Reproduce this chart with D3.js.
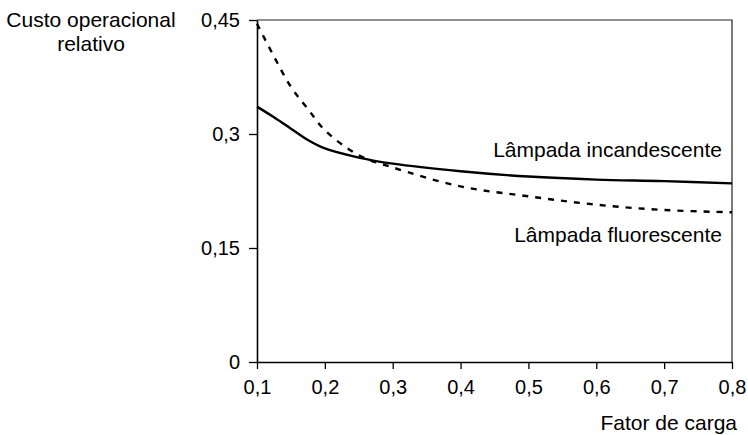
<!DOCTYPE html>
<html>
<head>
<meta charset="utf-8">
<script src="https://cdn.jsdelivr.net/npm/d3@7"></script>
<style>
  body { margin: 0; background: #fff; }
  text { font-family: "Liberation Sans", Arial, sans-serif; fill: #000; }
</style>
</head>
<body>
<div id="chart"></div>
<script>
// load factor (x) and relative operating cost for each lamp type
const loadFactor = [0.1, 0.125, 0.15, 0.175, 0.2, 0.25, 0.3, 0.4, 0.5, 0.6, 0.7, 0.8];
const incandescent = [0.336, 0.322, 0.307, 0.292, 0.281, 0.269, 0.261, 0.251, 0.244, 0.240, 0.238, 0.235];
const fluorescent = [0.445, 0.402, 0.362, 0.333, 0.305, 0.272, 0.256, 0.231, 0.218, 0.207, 0.200, 0.197];
const xTicks = [0.1, 0.2, 0.3, 0.4, 0.5, 0.6, 0.7, 0.8];
const yTicks = [0, 0.15, 0.3, 0.45];

let chart = { width: 748, height: 435, left: 257, top: 20, right: 16, bottom: 73 };
chart.innerWidth = chart.width - chart.left - chart.right;
chart.innerHeight = chart.height - chart.top - chart.bottom;

const fmt = d => String(d).replace('.', ',');

var svg = d3.select("#chart").append("svg")
    .attr("width", chart.width)
    .attr("height", chart.height);

var g = svg.append("g")
    .attr("transform", "translate(" + chart.left + "," + chart.top + ")");

var xscale = d3.scaleLinear().domain([0.1, 0.8]).range([0, chart.innerWidth]);
var yscale = d3.scaleLinear().domain([0, 0.45]).range([chart.innerHeight, 0]);

// frame top / right
g.append("path")
    .attr("d", "M0,0H" + chart.innerWidth + "V" + chart.innerHeight)
    .attr("fill", "none")
    .attr("stroke", "#222")
    .attr("stroke-width", 1.2);

// x axis
var xaxis = g.append("g")
    .attr("transform", "translate(0," + chart.innerHeight + ")")
    .call(d3.axisBottom(xscale).tickValues(xTicks).tickFormat(fmt).tickSizeInner(7).tickSizeOuter(0).tickPadding(11));
xaxis.select(".domain").attr("stroke-width", 1.6);
xaxis.selectAll(".tick line").attr("stroke-width", 1.3);
xaxis.selectAll("text").style("font-size", "20px");

// y axis
var yaxis = g.append("g")
    .call(d3.axisLeft(yscale).tickValues(yTicks).tickFormat(fmt).tickSizeInner(8).tickSizeOuter(0).tickPadding(9));
yaxis.select(".domain").attr("stroke-width", 1.6);
yaxis.selectAll(".tick line").attr("stroke-width", 1.3);
yaxis.selectAll("text").style("font-size", "20px");

var line = d3.line()
    .x((d, i) => xscale(loadFactor[i]))
    .y(d => yscale(d))
    .curve(d3.curveCatmullRom.alpha(0.5));

g.append("path")
    .datum(incandescent)
    .attr("fill", "none")
    .attr("stroke", "#000")
    .attr("stroke-width", 2.4)
    .attr("d", line);

g.append("path")
    .datum(fluorescent)
    .attr("fill", "none")
    .attr("stroke", "#000")
    .attr("stroke-width", 2.4)
    .attr("stroke-dasharray", "6,7")
    .attr("d", line);

// labels
g.append("text")
    .attr("x", chart.innerWidth - 10)
    .attr("y", 137)
    .attr("text-anchor", "end")
    .style("font-size", "21px")
    .text("Lâmpada incandescente");

g.append("text")
    .attr("x", chart.innerWidth - 10)
    .attr("y", 222)
    .attr("text-anchor", "end")
    .style("font-size", "21px")
    .text("Lâmpada fluorescente");

svg.append("text")
    .attr("x", chart.width - 11)
    .attr("y", 430)
    .attr("text-anchor", "end")
    .style("font-size", "21px")
    .text("Fator de carga");

svg.append("text")
    .attr("x", 91)
    .attr("y", 27)
    .attr("text-anchor", "middle")
    .style("font-size", "21px")
    .text("Custo operacional");

svg.append("text")
    .attr("x", 91)
    .attr("y", 51)
    .attr("text-anchor", "middle")
    .style("font-size", "21px")
    .text("relativo");
</script>
</body>
</html>
